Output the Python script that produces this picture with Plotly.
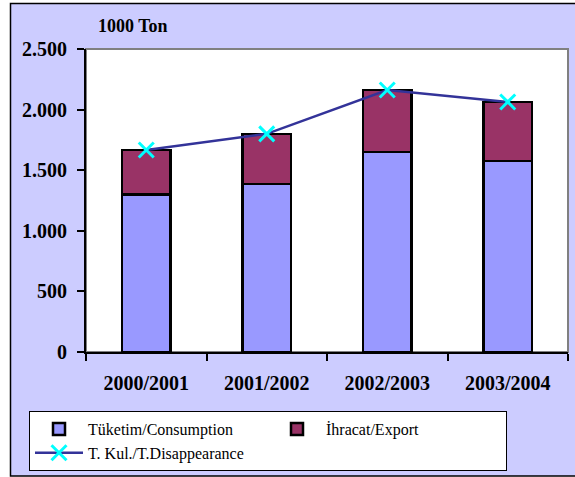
import plotly.graph_objects as go

categories = ["2000/2001", "2001/2002", "2002/2003", "2003/2004"]
consumption = [1300, 1385, 1650, 1575]
export = [367, 415, 512, 488]
disappearance = [1667, 1800, 2162, 2063]

name_cons = "Tüketim/Consumption"
name_exp = "İhracat/Export"
name_line = "T. Kul./T.Disappearance"
unit_label = "1000 Ton"
y_ticks = [0, 500, 1000, 1500, 2000, 2500]

W, H = 575, 477
PL, PR, PT, PB = 86, 568, 49, 352  # plot area in pixels


def px_x(p):
    return (p - PL) / (PR - PL)


def px_y(p):
    return (PB - p) / (PB - PT)


SERIF = "Liberation Serif"

fig = go.Figure()
fig.add_trace(go.Bar(
    x=categories, y=consumption, name=name_cons,
    marker=dict(color="#9999FF", line=dict(color="black", width=2.5)),
    width=0.4,
))
fig.add_trace(go.Bar(
    x=categories, y=export, name=name_exp,
    marker=dict(color="#993366", line=dict(color="black", width=2.5)),
    width=0.4,
))
fig.add_trace(go.Scatter(
    x=categories, y=disappearance, name=name_line, mode="lines+markers",
    line=dict(color="#333399", width=2.5),
    marker=dict(symbol="x-thin", size=15, color="#00FFFF",
                line=dict(color="#00FFFF", width=3)),
))

fig.update_layout(
    width=W, height=H,
    margin=dict(l=PL, r=W - PR, t=PT, b=H - PB, autoexpand=False),
    barmode="stack",
    bargap=0.6,
    paper_bgcolor="white",
    plot_bgcolor="white",
    separators=",.",
    showlegend=True,
    legend=dict(
        orientation="h", x=px_x(29), y=px_y(411), xanchor="left", yanchor="top",
        bgcolor="white", bordercolor="black", borderwidth=1,
        entrywidth=175, entrywidthmode="pixels", itemwidth=48,
        traceorder="normal",
        font=dict(family=SERIF, size=16, color="black"),
    ),
    shapes=[
        dict(type="rect", xref="paper", yref="paper", layer="below",
             x0=px_x(10.5), x1=px_x(576), y0=px_y(476), y1=px_y(3.5),
             fillcolor="#CCCCFF", line=dict(color="black", width=1.5)),
        dict(type="rect", xref="paper", yref="paper", layer="below",
             x0=0, x1=1, y0=0, y1=1,
             fillcolor="white", line=dict(color="#808080", width=2)),
    ],
    annotations=[
        dict(text=unit_label, xref="paper", yref="paper",
             x=px_x(133), y=px_y(26), xanchor="center", yanchor="middle",
             showarrow=False,
             font=dict(family=SERIF, size=18, color="black", weight="bold")),
    ],
)

fig.update_yaxes(
    range=[0, 2500], tickvals=y_ticks, tickformat=",d",
    showline=True, linecolor="black", linewidth=2,
    ticks="outside", ticklen=7, tickcolor="black", tickwidth=1.5,
    showgrid=False, zeroline=False,
    ticklabelstandoff=6,
    tickfont=dict(family=SERIF, size=20, color="black", weight="bold"),
)
fig.update_xaxes(
    showline=True, linecolor="black", linewidth=2,
    ticks="outside", ticklen=7, tickcolor="black", tickwidth=1.5,
    tickson="boundaries",
    showgrid=False,
    ticklabelstandoff=12,
    tickfont=dict(family=SERIF, size=20, color="black", weight="bold"),
)

fig.write_html("out.html", config={"displayModeBar": False},
               post_script="document.body.style.margin='0';")
